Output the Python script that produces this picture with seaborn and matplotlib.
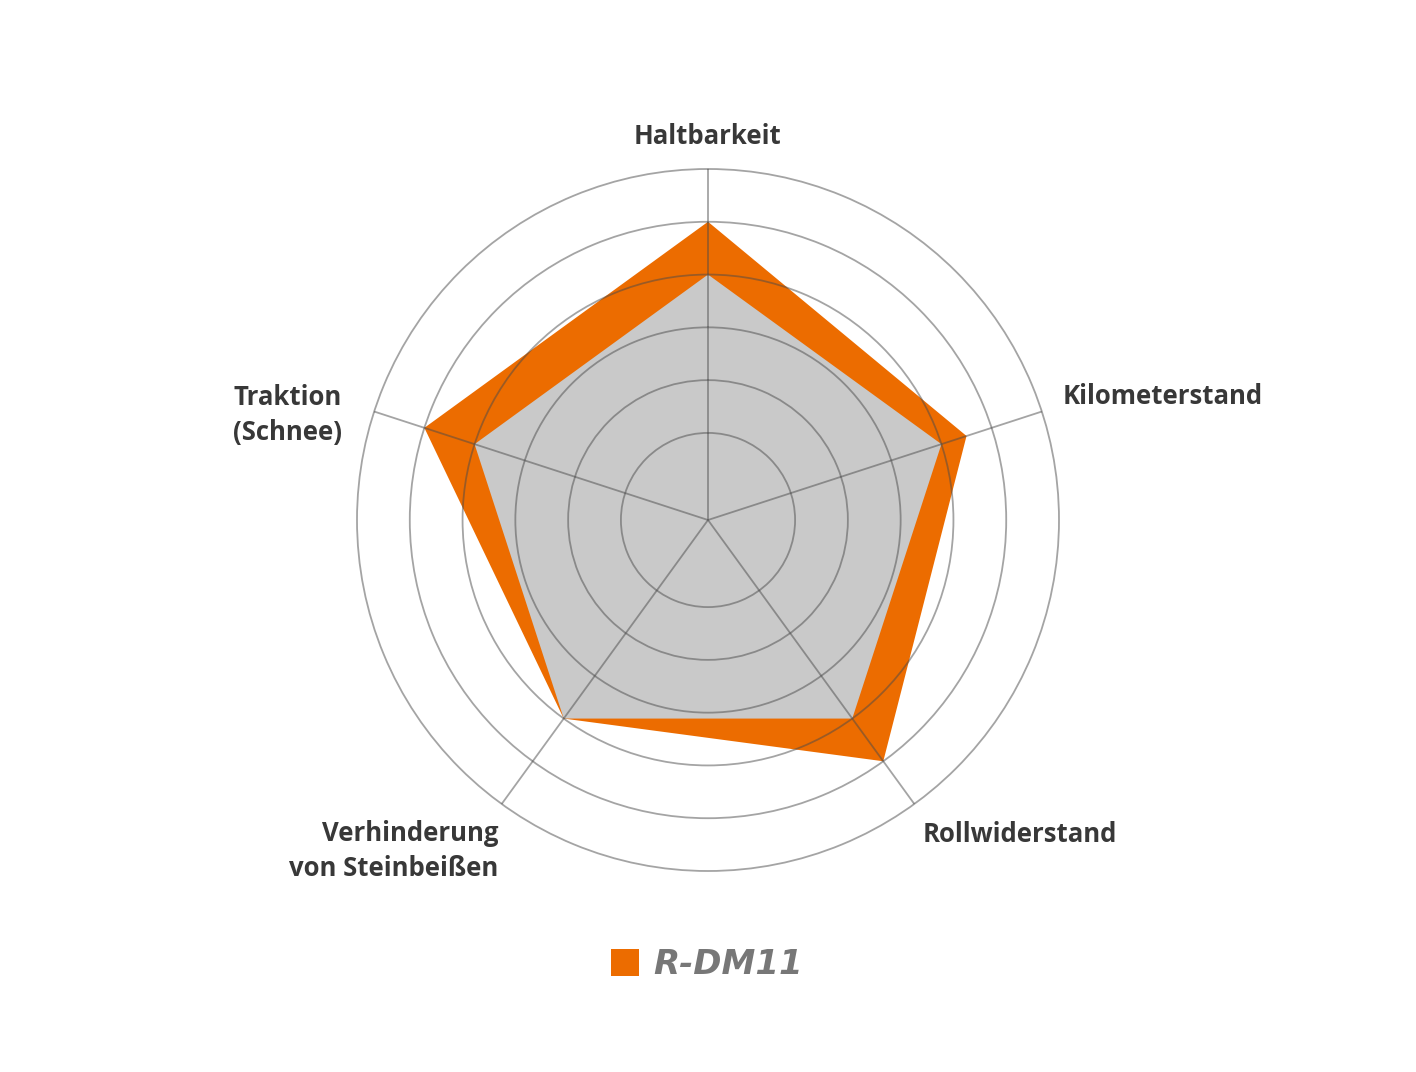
import numpy as np
import matplotlib
matplotlib.use("Agg")
import matplotlib.pyplot as plt
import seaborn as sns

# ---- data ----
categories = ["Haltbarkeit", "Kilometerstand", "Rollwiderstand",
              "Verhinderung\nvon Steinbeißen", "Traktion\n(Schnee)"]
reference_values = [4, 4, 4, 4, 4]          # grey comparison area
rdm11_values = [5, 4.5, 5, 4, 5]            # R-DM11
series_label = "R-DM11"
ring_levels = [1, 2, 3, 4, 5, 6]

sns.set_theme(style="white")
plt.rcParams['font.family'] = ['Open Sans', 'DejaVu Sans']

W, H = 1416, 1072
fig = plt.figure(figsize=(W / 100, H / 100), dpi=100)
fig.patch.set_facecolor("white")

r_min, r_max = -0.65, 6.06
cx, cy = 708, 520
R = 351 * (r_max - r_min) / (6 - r_min)
ax = fig.add_axes([(cx - R) / W, (H - cy - R) / H, 2 * R / W, 2 * R / H],
                  projection="polar")
ax.set_facecolor("none")
ax.set_theta_offset(np.pi / 2)
ax.set_theta_direction(-1)

n = len(categories)
angles = np.linspace(0, 2 * np.pi, n, endpoint=False)

ax.fill(angles, rdm11_values, color="#EC6C00", lw=0, zorder=1, label=series_label)
ax.fill(angles, reference_values, color="#C9C9C9", lw=0, zorder=2)

grid_kw = dict(color="#4a4a4a", alpha=0.5, lw=1.3, zorder=5)
# spokes from centre to outer ring
for a in angles:
    ax.plot([a, a], [r_min, ring_levels[-1]], solid_capstyle="butt", **grid_kw)

ax.set_ylim(r_min, r_max)
ax.set_yticks(ring_levels)
ax.set_yticklabels([])
ax.set_xticks(angles)
ax.set_xticklabels([])
ax.spines["polar"].set_visible(False)
ax.set_axisbelow(False)
ax.xaxis.grid(False)
ax.yaxis.grid(True, color="#4a4a4a", alpha=0.5, lw=1.3)
for gl in ax.yaxis.get_gridlines():
    gl.set_zorder(5)

txt = dict(fontsize=18.5, fontweight="bold", color="#383838")
def px(x, y):
    return x / W, 1 - y / H

fig.text(*px(708, 136), categories[0], ha="center", va="center", **txt)
fig.text(*px(1063, 397), categories[1], ha="left", va="center", **txt)
fig.text(*px(923, 834), categories[2], ha="left", va="center", **txt)
fig.text(*px(498, 851), categories[3], ha="right", va="center",
         multialignment="right", linespacing=1.38, **txt)
fig.text(*px(342, 415), categories[4], ha="right", va="center",
         multialignment="right", linespacing=1.38, **txt)

handles, labels = ax.get_legend_handles_labels()
leg = fig.legend(handles, labels, loc="center", bbox_to_anchor=px(707, 965),
                 frameon=False, handlelength=0.82, handleheight=0.82,
                 handletextpad=0.4,
                 prop=dict(size=24.5, weight="heavy", style="italic",
                           family=["DejaVu Sans"]))
for t in leg.get_texts():
    t.set_color("#777777")

fig.savefig("out.png", dpi=100, facecolor="white")
